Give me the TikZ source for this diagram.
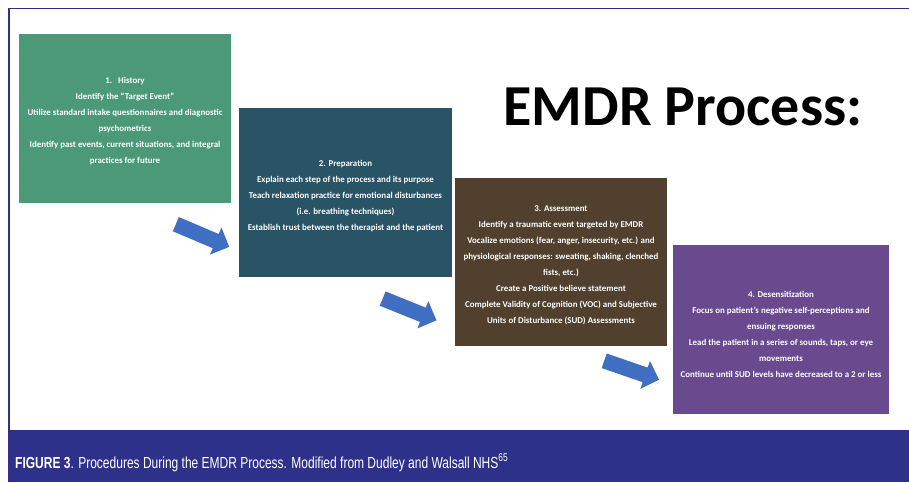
\documentclass[tikz,border=0pt]{standalone}
\usepackage{fontspec}
\setmainfont{Carlito}
\newfontfamily\capfont[FakeStretch=0.75]{Liberation Sans}
\usetikzlibrary{shapes.arrows}
\definecolor{frameblue}{RGB}{46,49,138}
\definecolor{cgreen}{RGB}{76,153,122}
\definecolor{cteal}{RGB}{40,84,102}
\definecolor{cbrown}{RGB}{80,64,45}
\definecolor{cpurple}{RGB}{106,74,142}
\definecolor{arrowblue}{RGB}{64,110,194}
\tikzset{
  stepbox/.style={minimum width=#1, inner sep=0pt, align=center, text=white,
    font=\bfseries\fontsize{8.9}{16}\selectfont},
  bluearrow/.style={single arrow, fill=arrowblue, draw=none, minimum height=58pt,
    inner sep=7.5pt, single arrow head extend=7pt, single arrow tip angle=90},
}
\begin{document}
\begin{tikzpicture}[x=1pt,y=-1pt]
\useasboundingbox (0,0) rectangle (909,482);
\fill[white] (0,0) rectangle (909,482);
% frame
\draw[frameblue, line width=1.5pt] (9,431) -- (9,8.5) -- (909,8.5);
\fill[frameblue] (8.25,430) rectangle (909,482);
% boxes
\fill[cgreen] (19,34) rectangle (231,203);
\node[stepbox=212pt] (b1) at (125,121) {1.\ \ \ History\\Identify the ``Target Event''\\Utilize standard intake questionnaires and diagnostic\\psychometrics\\Identify past events, current situations, and integral\\practices for future};
\fill[cteal] (239,108) rectangle (452,277);
\node[stepbox=213pt] (b2) at (345.5,196) {2. Preparation\\Explain each step of the process and its purpose\\Teach relaxation practice for emotional disturbances\\(i.e. breathing techniques)\\Establish trust between the therapist and the patient};
\fill[cbrown] (455,178) rectangle (667,346);
\node[stepbox=212pt] (b3) at (561,265) {3. Assessment\\Identify a traumatic event targeted by EMDR\\Vocalize emotions (fear, anger, insecurity, etc.) and\\physiological responses: sweating, shaking, clenched\\fists, etc.)\\Create a Positive believe statement\\Complete Validity of Cognition (VOC) and Subjective\\Units of Disturbance (SUD) Assessments};
\fill[cpurple] (673,245) rectangle (889,414);
\node[stepbox=216pt] (b4) at (781,334.5) {4. Desensitization\\Focus on patient's negative self-perceptions and\\ensuing responses\\Lead the patient in a series of sounds, taps, or eye\\movements\\Continue until SUD levels have decreased to a 2 or less};
% title
\node[anchor=base, font=\bfseries\fontsize{58}{60}\selectfont, inner sep=0pt] (title) at (683,125) {EMDR Process:};
% arrows
\node[bluearrow, rotate=-23] (a1) at (199,234) {};
\node[bluearrow, rotate=-22] (a2) at (406,308) {};
\node[bluearrow, rotate=-19] (a3) at (628,369) {};
% caption
\node[anchor=base west, inner sep=0pt, text=white, font=\capfont\fontsize{16}{18}\selectfont] (cap) at (15,468) {\textbf{FIGURE 3}. Procedures During the EMDR Process. Modified from Dudley and Walsall NHS\textsuperscript{65}};
\end{tikzpicture}
\end{document}
